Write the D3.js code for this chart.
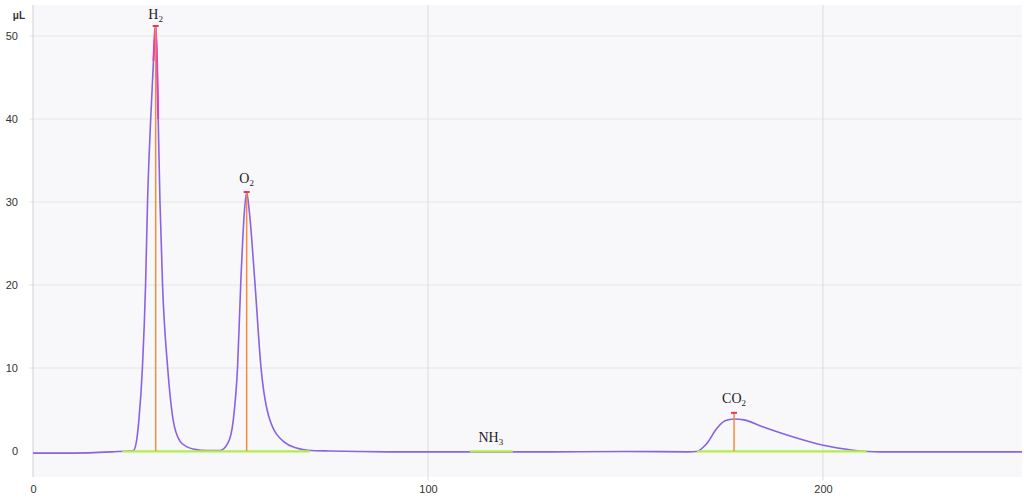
<!DOCTYPE html>
<html>
<head>
<meta charset="utf-8">
<script src="https://cdn.jsdelivr.net/npm/d3@7"></script>
<style>
  body { margin: 0; background: #fff; }
  .tick text { font-family: "Liberation Sans", Arial, sans-serif; font-size: 11px; fill: #333; }
  .peak-label { font-family: "Liberation Serif", "Times New Roman", serif; font-size: 14px; fill: #222; }
</style>
</head>
<body>
<svg id="chart" width="1024" height="499"></svg>
<script>
// retention time (s) / volume (uL)
var traceX = [0, 10, 20, 24, 25.4, 26.2, 26.8, 27.7, 28.5, 29.0, 29.8, 30.5, 31.06, 31.4, 31.7, 32.15, 32.8, 34.1, 35.5, 37.2, 39, 41, 44, 47.3,
  49.4, 50.7, 51.8, 52.6, 53.5, 54.1, 54.8, 56.2, 57.7, 60.0, 63.8, 66.5, 69.6, 75, 90, 110, 130, 150,
  166, 168.0, 170.6, 173.1, 175.2, 177.5, 180, 184.9, 192.5, 200.1, 207.7, 214.4, 225, 250.4];
var traceY = [-0.25, -0.25, -0.1, 0, 0.05, 1.2, 3.7, 10, 20, 30, 40, 47, 51.2, 47, 40, 30, 20, 10, 3.7, 1.2, 0.5, 0.2, 0.05, 0.05,
  1, 3.7, 10.2, 20.2, 28.7, 31.2, 28.7, 20.2, 10.2, 3.7, 1, 0.4, 0.1, 0, -0.1, -0.1, -0.1, -0.05,
  -0.1, -0.05, 0.9, 2.7, 3.65, 3.86, 3.75, 2.9, 1.7, 0.7, 0.1, -0.1, -0.1, -0.1];

// detected peaks
var peakNames = ["H", "O", "NH", "CO"];
var peakSubs = ["2", "2", "3", "2"];
var peakTimes = [31.06, 54.1, 115.9, 177.5];
var peakHeights = [51.2, 31.2, null, 4.6];
var peakLabelY = [52.1, 32.3, 1.1, 5.8];

// integration baselines
var baseStart = [22.5, 110.6, 168.1];
var baseEnd = [70.1, 121.5, 211.1];

var xTicks = [0, 100, 200];
var yTicks = [0, 10, 20, 30, 40, 50];

(function () {
  var svg = d3.select("#chart");
  var mLeft = 33, mRight = 1022, mTop = 5, mBottom = 477;

  var x = d3.scaleLinear().domain([0, 250.4]).range([mLeft, mRight]);
  var y = d3.scaleLinear().domain([-3.13, 53.73]).range([mBottom, mTop]);

  svg.append("rect").attr("x", mLeft).attr("y", mTop)
    .attr("width", mRight - mLeft).attr("height", mBottom - mTop)
    .attr("fill", "#f8f8fb");

  // horizontal grid
  svg.append("g").selectAll("line").data(yTicks.filter(function (d) { return d > 0; })).enter().append("line")
    .attr("x1", mLeft - 4).attr("x2", mRight)
    .attr("y1", function (d) { return y(d); }).attr("y2", function (d) { return y(d); })
    .attr("stroke", "#e6e6ea").attr("stroke-width", 1);

  // vertical grid
  svg.append("g").selectAll("line").data(xTicks.filter(function (d) { return d > 0; })).enter().append("line")
    .attr("x1", function (d) { return x(d); }).attr("x2", function (d) { return x(d); })
    .attr("y1", mTop).attr("y2", mBottom + 3)
    .attr("stroke", "#dcdce0").attr("stroke-width", 1);

  svg.append("line").attr("x1", mLeft).attr("x2", mLeft).attr("y1", mTop).attr("y2", mBottom)
    .attr("stroke", "#cfcfd4");

  var yAxis = svg.append("g").attr("transform", "translate(" + (mLeft - 15) + ",0)")
    .call(d3.axisLeft(y).tickValues(yTicks).tickSize(0).tickPadding(0));
  yAxis.select(".domain").remove();

  var xAxis = svg.append("g").attr("transform", "translate(0," + (mBottom + 5) + ")")
    .call(d3.axisBottom(x).tickValues(xTicks).tickSize(0).tickPadding(3));
  xAxis.select(".domain").remove();

  svg.append("text").attr("x", 25).attr("y", 19).attr("text-anchor", "end")
    .style("font-family", "Liberation Sans, Arial, sans-serif").style("font-size", "10px")
    .style("font-weight", "bold").attr("fill", "#333").text("μL");

  var pts = traceX.map(function (d, i) { return [d, traceY[i]]; });
  var line = d3.line().x(function (d) { return x(d[0]); }).y(function (d) { return y(d[1]); })
    .curve(d3.curveMonotoneX);

  svg.append("path").datum(pts).attr("d", line)
    .attr("fill", "none").attr("stroke", "#8a62e4").attr("stroke-width", 1.6);

  // magenta highlight on the H2 apex
  var hi = pts.filter(function (d) { return d[0] >= 30.5 && d[0] <= 31.7; });
  svg.append("path").datum(hi).attr("d", line)
    .attr("fill", "none").attr("stroke", "#e03cc8").attr("stroke-width", 2);

  // integration baselines drawn over the trace
  svg.append("g").selectAll("line").data(baseStart).enter().append("line")
    .attr("x1", function (d) { return x(d); })
    .attr("x2", function (d, i) { return x(baseEnd[i]); })
    .attr("y1", y(-0.05)).attr("y2", y(-0.05))
    .attr("stroke", "#b2ee48").attr("stroke-width", 2.2);

  // peak markers
  var marked = peakTimes.map(function (t, i) { return { t: t, h: peakHeights[i] }; })
    .filter(function (d) { return d.h !== null; });

  svg.append("g").selectAll("line").data(marked).enter().append("line")
    .attr("x1", function (d) { return x(d.t); }).attr("x2", function (d) { return x(d.t); })
    .attr("y1", y(0)).attr("y2", function (d) { return y(d.h); })
    .attr("stroke", "#f58b3c").attr("stroke-width", 1.5);

  svg.append("g").selectAll("line").data(marked).enter().append("line")
    .attr("x1", function (d) { return x(d.t) - 3; }).attr("x2", function (d) { return x(d.t) + 3; })
    .attr("y1", function (d) { return y(d.h); }).attr("y2", function (d) { return y(d.h); })
    .attr("stroke", "#e8385a").attr("stroke-width", 2);

  // labels
  var lab = svg.append("g").selectAll("text").data(peakNames).enter().append("text")
    .attr("class", "peak-label").attr("text-anchor", "middle")
    .attr("x", function (d, i) { return x(peakTimes[i]); })
    .attr("y", function (d, i) { return y(peakLabelY[i]); });
  lab.append("tspan").text(function (d) { return d; });
  lab.append("tspan").attr("dy", 3).style("font-size", "9px").text(function (d, i) { return peakSubs[i]; });
})();
</script>
</body>
</html>
